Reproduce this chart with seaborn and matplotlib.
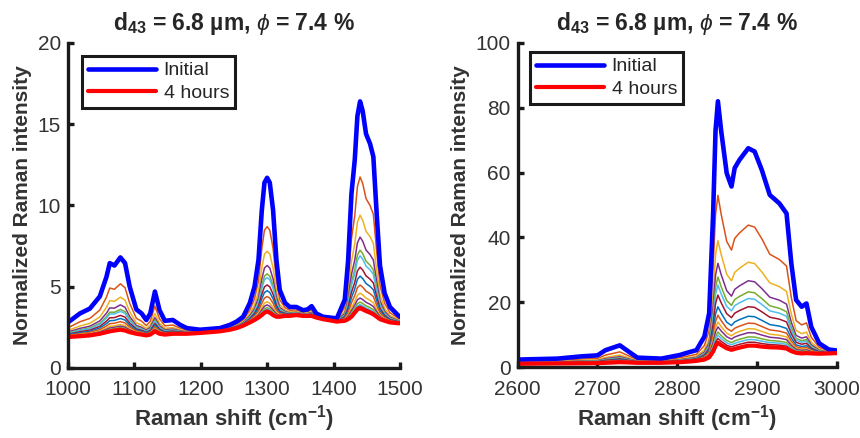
import numpy as np
import matplotlib
matplotlib.use("Agg")
import matplotlib.pyplot as plt
import seaborn as sns

# Left panel: fingerprint region
left_x = [1000, 1018, 1033, 1048, 1058, 1063, 1070, 1079, 1086, 1093,
          1103, 1111, 1118, 1124, 1131, 1138, 1146, 1158, 1169, 1179,
          1199, 1229, 1244, 1254, 1264, 1274, 1281, 1287, 1292, 1296,
          1300, 1304, 1309, 1314, 1319, 1327, 1334, 1344, 1354, 1361,
          1367, 1374, 1384, 1405, 1417, 1422, 1427, 1432, 1436, 1440,
          1444, 1449, 1455, 1460, 1465, 1470, 1477, 1485, 1497, 1500]
left_initial = [2.8, 3.35, 3.65, 4.4, 5.6, 6.45, 6.3, 6.8, 6.45, 5.0,
                3.6, 3.35, 2.95, 3.35, 4.7, 3.55, 2.9, 2.95, 2.65, 2.45,
                2.35, 2.45, 2.65, 2.85, 3.15, 4.0, 5.0, 6.65, 9.7, 11.4,
                11.7, 11.4, 9.7, 6.65, 4.8, 4.0, 3.75, 3.75, 3.55, 3.6,
                3.8, 3.35, 3.15, 3.05, 4.2, 6.6, 10.7, 12.8, 15.5, 16.4,
                15.8, 14.4, 13.8, 13.0, 9.5, 6.3, 4.6, 3.75, 3.25, 3.15]
left_final = [1.9, 1.95, 2.0, 2.1, 2.2, 2.25, 2.3, 2.35, 2.3, 2.2,
              2.1, 2.05, 2.0, 2.05, 2.25, 2.1, 2.05, 2.1, 2.1, 2.1,
              2.15, 2.25, 2.35, 2.45, 2.6, 2.8, 2.95, 3.1, 3.25, 3.4,
              3.47, 3.4, 3.25, 3.15, 3.15, 3.2, 3.2, 3.25, 3.2, 3.2,
              3.2, 3.1, 3.0, 2.85, 2.9, 3.0, 3.15, 3.4, 3.6, 3.67,
              3.6, 3.5, 3.4, 3.3, 3.15, 3.0, 2.9, 2.8, 2.75, 2.75]
# heights of the intermediate spectra read at the 1440 cm-1 peak
left_peak_x = 1440
left_levels = [11.75, 9.4, 8.05, 7.25, 6.9, 6.2, 5.65, 5.1, 4.6, 4.3, 4.05, 3.9, 3.8]

# Right panel: C-H stretching region
right_x = [2600, 2650, 2680, 2700, 2710, 2728, 2740, 2750, 2780, 2803,
           2815, 2824, 2834, 2840, 2845, 2848, 2851, 2855, 2862, 2868,
           2872, 2878, 2889, 2897, 2906, 2916, 2928, 2937, 2943, 2949,
           2956, 2962, 2968, 2978, 2990, 3000]
right_initial = [2.3, 2.6, 3.3, 3.6, 5.2, 6.7, 4.6, 2.9, 2.6, 3.7,
                 4.6, 5.2, 9.4, 16.6, 47.5, 73, 82, 73, 59.8, 55.7,
                 61.4, 63.9, 67.5, 66.5, 60.8, 53.1, 50.5, 47.4, 32, 20.7,
                 18.6, 19.6, 12.4, 7.3, 5.4, 5.1]
right_final = [1.0, 1.1, 1.15, 1.2, 1.3, 1.5, 1.4, 1.3, 1.3, 1.5,
               1.7, 1.9, 2.3, 3.0, 4.8, 6.5, 7.5, 6.8, 5.8, 5.3,
               5.6, 6.0, 6.6, 6.6, 6.3, 6.1, 6.0, 5.7, 4.9, 4.4,
               4.2, 4.3, 4.2, 4.1, 4.2, 4.3]
# heights of the intermediate spectra read at the 2850 cm-1 peak
right_peak_x = 2851
right_levels = [53, 39, 32, 27.8, 25.3, 22.2, 18.6, 16, 13.9, 12.4, 10.8, 9.8, 8.8]

title = "d$_{\\mathbf{43}}$ = 6.8 µm, $\\phi$ = 7.4 %"
xlabel = "Raman shift (cm$^{\\mathbf{-1}}$)"
ylabel = "Normalized Raman intensity"

# MATLAB default colour order, starting after the first (blue) line
matlab_colors = ['#D95319', '#EDB120', '#7E2F8E', '#77AC30', '#4DBEEE', '#A2142F', '#0072BD']

sns.set_style("ticks")
plt.rcParams['font.family'] = ['Liberation Sans', 'DejaVu Sans']
plt.rcParams['mathtext.fontset'] = 'custom'
plt.rcParams['mathtext.rm'] = 'Liberation Sans'
plt.rcParams['mathtext.bf'] = 'Liberation Sans:bold'
plt.rcParams['mathtext.it'] = 'Liberation Sans:italic'


def draw(ax, x, initial, final, levels, peak_x):
    initial = np.array(initial)
    final = np.array(final)
    k = x.index(peak_x)
    for i, lv in enumerate(levels):
        frac = (lv - final[k]) / (initial[k] - final[k])
        y = final + frac * (initial - final)
        sns.lineplot(x=x, y=y, ax=ax, color=matlab_colors[i % 7], lw=1.1, legend=False)
    sns.lineplot(x=x, y=initial, ax=ax, color='blue', lw=3.3, label='Initial')
    sns.lineplot(x=x, y=final, ax=ax, color='red', lw=3.0, label='4 hours')


fig = plt.figure(figsize=(8.6, 4.38), dpi=100)
ax1 = fig.add_axes([0.079, 0.16, 0.386, 0.742])
ax2 = fig.add_axes([0.602, 0.162, 0.371, 0.740])

draw(ax1, left_x, left_initial, left_final, left_levels, left_peak_x)
draw(ax2, right_x, right_initial, right_final, right_levels, right_peak_x)

ax1.set_xlim(1000, 1500)
ax1.set_ylim(0, 20)
ax1.set_xticks(range(1000, 1501, 100))
ax1.set_yticks(range(0, 21, 5))
ax2.set_xlim(2600, 3000)
ax2.set_ylim(0, 100)
ax2.set_xticks(range(2600, 3001, 100))
ax2.set_yticks(range(0, 101, 20))

for ax, anchor in [(ax1, (0.042, 0.96)), (ax2, (0.038, 0.972))]:
    sns.despine(ax=ax)
    for s in ['left', 'bottom']:
        ax.spines[s].set_linewidth(2.4)
        ax.spines[s].set_color('#1a1a1a')
    ax.tick_params(direction='in', length=4, width=2.4, labelsize=15,
                   colors='#1a1a1a', labelcolor='#333333')
    ax.tick_params(axis='x', pad=9)
    ax.tick_params(axis='y', pad=5)
    ax.set_title(title, fontsize=16.5, fontweight='bold', pad=9)
    ax.set_xlabel(xlabel, fontsize=16, fontweight='bold', color='#333333', labelpad=3)
    ax.set_ylabel(ylabel, fontsize=15, fontweight='bold', color='#333333', labelpad=4)
    leg = ax.legend(loc='upper left', bbox_to_anchor=anchor, borderaxespad=0,
                    fontsize=14, handlelength=3.5, fancybox=False,
                    edgecolor='#1a1a1a', framealpha=1, borderpad=0.3,
                    labelspacing=0.25, handletextpad=0.4)
    leg.get_frame().set_linewidth(2.2)

fig.savefig("out.png", dpi=100)
